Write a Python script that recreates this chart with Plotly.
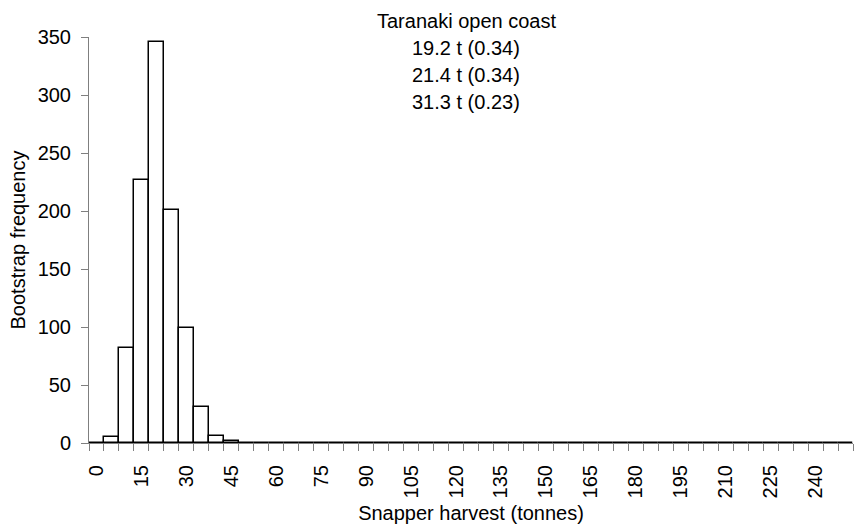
import plotly.graph_objects as go

bin_starts = list(range(0, 255, 5))  # 0,5,...,250
bin_width = 5
freq_nonzero = {5: 5, 10: 82, 15: 227, 20: 346, 25: 201, 30: 99, 35: 31, 40: 6, 45: 2}
frequencies = [freq_nonzero.get(b, 0) for b in bin_starts]
label_values = list(range(0, 241, 15))
title_lines = ["Taranaki open coast", "19.2 t (0.34)", "21.4 t (0.34)", "31.3 t (0.23)"]

FONT = "Liberation Sans, Arial, sans-serif"
FS = 20
AXIS_COL = "#7f7f7f"

centers = [b + bin_width / 2 for b in bin_starts]

fig = go.Figure()
fig.add_trace(go.Bar(
    x=centers, y=frequencies, width=[bin_width] * len(centers),
    marker=dict(color="white", line=dict(color="black", width=1.5)),
    showlegend=False,
))

fig.update_layout(
    width=858, height=526,
    margin=dict(l=89, r=5, t=37, b=83),
    paper_bgcolor="white", plot_bgcolor="white",
    font=dict(family=FONT, size=FS, color="black"),
    bargap=0,
    xaxis=dict(
        range=[0, bin_starts[-1] + bin_width],
        tickmode="array",
        tickvals=[v + bin_width / 2 for v in label_values],
        ticktext=[str(v) for v in label_values],
        tickangle=-90,
        ticks="",
        ticklabelstandoff=13,
        showline=True, linecolor=AXIS_COL, linewidth=1,
        showgrid=False, zeroline=False,
        minor=dict(tickmode="array", tickvals=bin_starts + [bin_starts[-1] + bin_width],
                   ticks="outside", ticklen=7, tickcolor=AXIS_COL, tickwidth=1, showgrid=False),
        title=dict(text="Snapper harvest (tonnes)", font=dict(size=FS), standoff=8),
        tickfont=dict(size=FS),
    ),
    yaxis=dict(
        range=[0, 350],
        tickmode="linear", tick0=0, dtick=50,
        ticks="outside", ticklen=7, tickcolor=AXIS_COL, tickwidth=1,
        ticklabelstandoff=6,
        showline=True, linecolor=AXIS_COL, linewidth=1,
        showgrid=False, zeroline=False,
        title=dict(text="Bootstrap frequency", font=dict(size=FS), standoff=6),
        tickfont=dict(size=FS),
    ),
)

ys = [1.039, 0.9725, 0.906, 0.8395]
for txt, yy in zip(title_lines, ys):
    fig.add_annotation(text=txt, xref="paper", yref="paper", x=0.494, y=yy,
                       xanchor="center", yanchor="middle", showarrow=False,
                       font=dict(family=FONT, size=FS, color="black"))

fig.write_html("out.html")
